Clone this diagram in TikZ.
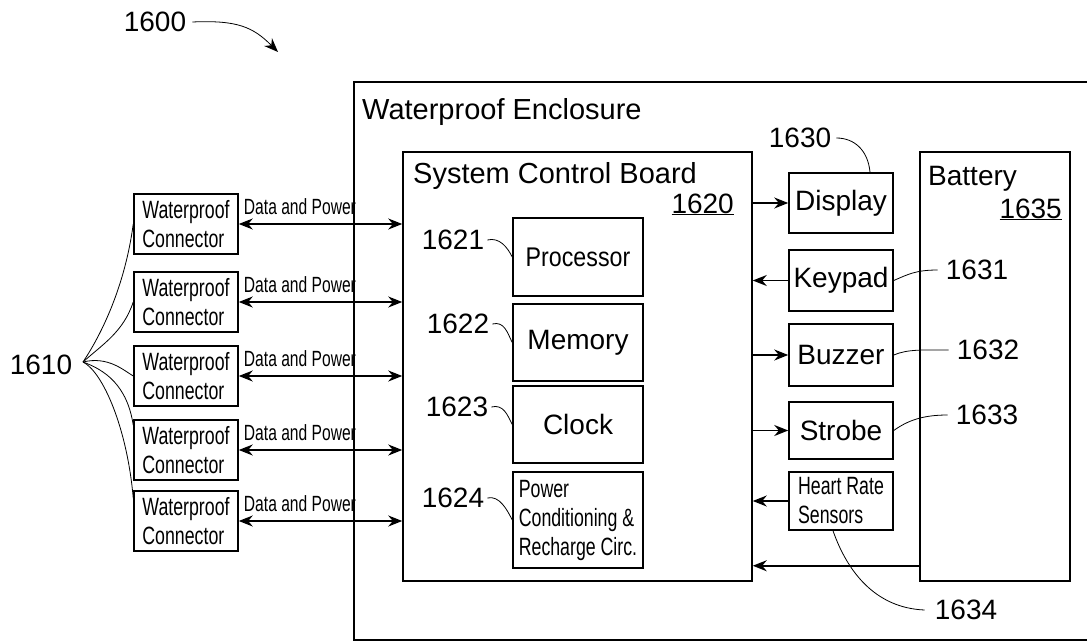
\documentclass[tikz,border=0pt]{standalone}
\usepackage{fontspec}
\setmainfont{Liberation Sans}
\newfontfamily\narrowfont[FakeStretch=0.71]{Liberation Sans}
\newfontfamily\procfont[FakeStretch=0.86]{Liberation Sans}
\usetikzlibrary{arrows.meta,calc}
\begin{document}
\begin{tikzpicture}[x=1pt,y=-1pt,
  box/.style={draw=black, line width=1.5pt, inner sep=0pt, font=\fontsize{28}{32}\selectfont},
  nbox/.style={box, align=left, font=\narrowfont\fontsize{25}{29}\selectfont},
  txt/.style={inner sep=0pt, font=\fontsize{28}{32}\selectfont},
  ttl/.style={inner sep=0pt, anchor=base west, font=\fontsize{29}{33}\selectfont},
  dp/.style={inner sep=0pt, anchor=base west, font=\narrowfont\fontsize{22}{26}\selectfont},
  lead/.style={draw=black, line width=0.8pt},
  conn/.style={draw=black, line width=1.6pt, -{Stealth[length=14pt,width=11pt]}},
  bconn/.style={draw=black, line width=1.6pt, {Stealth[length=14pt,width=11pt]}-{Stealth[length=14pt,width=11pt]}}
]
\useasboundingbox (0,0) rectangle (1087,642);
\clip (0,0) rectangle (1087,642);

% enclosure
\node[box, minimum width=746pt, minimum height=558pt] (enc) at (727,361) {};
\node[ttl] (enclbl) at (362,119) {Waterproof Enclosure};

% system control board
\node[box, minimum width=349pt, minimum height=429pt] (board) at (577.5,366.5) {};
\node[ttl] (boardlbl) at (413,183) {System Control Board};
\node[txt, anchor=base east] (n1620) at (734,213) {\underline{1620}};

\node[box, font=\procfont\fontsize{27}{31}\selectfont, minimum width=130pt, minimum height=78pt] (proc) at (578,257) {Processor};
\node[box, minimum width=130pt, minimum height=77pt] (mem) at (578,342.5) {Memory};
\node[box, minimum width=130pt, minimum height=77pt] (clock) at (578,424.5) {Clock};
\node[nbox, minimum width=130pt, minimum height=96pt] (power) at (578,520) {Power\\Conditioning \&\\Recharge Circ.};

\node[txt] (n1621) at (453,240) {1621};
\node[txt] (n1622) at (458,324) {1622};
\node[txt] (n1623) at (457,407) {1623};
\node[txt] (n1624) at (453,498) {1624};
\draw[lead] ([xshift=3pt]n1621.east) .. controls +(12,-3) and +(-5,-10) .. (proc.west);
\draw[lead] ([xshift=3pt]n1622.east) .. controls +(12,-3) and +(-5,-10) .. (mem.west);
\draw[lead] ([xshift=3pt]n1623.east) .. controls +(12,-3) and +(-5,-10) .. (clock.west);
\draw[lead] ([xshift=3pt]n1624.east) .. controls +(12,-3) and +(-5,-10) .. (power.west);

% right column
\node[box, minimum width=104pt, minimum height=60pt] (display) at (841,203) {Display};
\node[box, minimum width=104pt, minimum height=61pt] (keypad) at (841,280.5) {Keypad};
\node[box, minimum width=104pt, minimum height=62pt] (buzzer) at (841,355) {Buzzer};
\node[box, minimum width=104pt, minimum height=57pt] (strobe) at (841,430.5) {Strobe};
\node[nbox, minimum width=104pt, minimum height=58pt] (hr) at (841,501) {Heart Rate\\Sensors};

\node[box, minimum width=150pt, minimum height=429pt] (battery) at (995,366.5) {};
\node[txt, anchor=base west] (battlbl) at (928,185) {Battery};
\node[txt, anchor=base east] (n1635) at (1062,218) {\underline{1635}};

\node[txt] (n1630) at (800,138) {1630};
\node[txt] (n1631) at (977,270) {1631};
\node[txt] (n1632) at (988,350) {1632};
\node[txt] (n1633) at (987,415) {1633};
\node[txt] (n1634) at (966,610) {1634};
\draw[lead] ([xshift=5pt]n1630.east) .. controls +(18,0) and +(-2,-22) .. ([xshift=29pt]display.north);
\draw[lead] ([xshift=-8pt]n1631.west) .. controls +(-22,0) and +(14,-6) .. (keypad.east);
\draw[lead] ([xshift=-8pt]n1632.west) .. controls +(-25,0) and +(14,-6) .. (buzzer.east);
\draw[lead] ([xshift=-8pt]n1633.west) .. controls +(-25,0) and +(14,-10) .. (strobe.east);
\draw[lead] ([xshift=-10pt]n1634.west) .. controls +(-50,-2) and +(14,40) .. ([xshift=-8pt]hr.south);

\draw[conn] (display.west -| board.east) -- (display.west);
\draw[conn] (keypad.west) -- (keypad.west -| board.east);
\draw[conn] (buzzer.west -| board.east) -- (buzzer.west);
\draw[conn] (strobe.west -| board.east) -- (strobe.west);
\draw[conn] (hr.west) -- (hr.west -| board.east);
\coordinate (battout) at ([yshift=16pt]battery.south west);
\draw[conn] (battout) -- (battout -| board.east);

% waterproof connectors
\foreach \i/\y in {1/224,2/302,3/376,4/450,5/521}{
  \node[nbox, minimum width=104pt, minimum height=60pt] (c\i) at (186,\y) {Waterproof\\Connector};
  \draw[bconn] (c\i.east) -- (c\i.east -| board.west);
  \node[dp] (dp\i) at ([xshift=5pt,yshift=10pt]c\i.east) {Data and Power};
}

\node[txt] (n1610) at (41,365) {1610};
\coordinate (s1610) at (83,362);
\draw[lead] (s1610) .. controls +(20,-30) and +(-8,60) .. (c1.west);
\draw[lead] (s1610) .. controls +(20,-18) and +(-10,30) .. (c2.west);
\draw[lead] (s1610) .. controls +(25,-6) and +(-10,-6) .. (c3.west);
\draw[lead] (s1610) .. controls +(22,8) and +(-6,-40) .. ([yshift=-6pt]c4.north west);
\draw[lead] (s1610) .. controls +(20,10) and +(-6,-70) .. ([yshift=-8pt]c5.north west);

% 1600
\node[txt] (n1600) at (155,22) {1600};
\coordinate (a1600) at (278,52);
\draw[lead, -{Stealth[length=14pt,width=11pt]}] ([xshift=6pt]n1600.east) .. controls +(45,-2) and +(-25,-25) .. (a1600);
\end{tikzpicture}
\end{document}
